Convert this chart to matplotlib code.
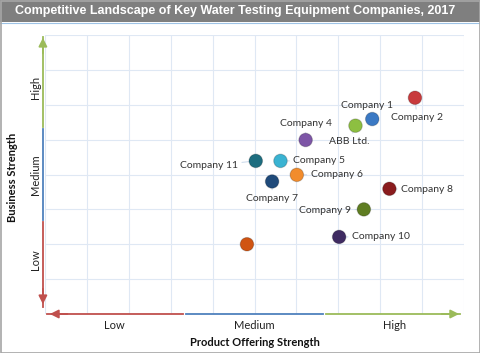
import matplotlib.pyplot as plt
from matplotlib.patches import Rectangle

# chart data
companies = ['Company 2', 'Company 1', 'ABB Ltd.', 'Company 4', 'Company 11', 'Company 5',
             'Company 6', 'Company 7', 'Company 8', 'Company 9', 'Company 10', '']
product_strength = [8.83, 7.81, 7.41, 6.22, 5.03, 5.62, 6.01, 5.42, 8.22, 7.61, 7.02, 4.82]
business_strength = [6.2, 5.59, 5.40, 4.99, 4.39, 4.39, 3.99, 3.80, 3.59, 3.00, 2.21, 2.0]
levels = ['Low', 'Medium', 'High']

colors = ['#c83a3c', '#3b79c4', '#8dbf41', '#7d55a6', '#1d6d7f', '#3ab3d2',
          '#f28c2c', '#1f4a7a', '#8a1c1e', '#5f7d22', '#3f2b62', '#d05412']
# label offsets in pixels (dx, dy) and alignment
offsets = [(2, -20, 'center'), (-5, 14, 'center'), (-6, -16, 'center'), (0, 16, 'center'),
           (-18, -5, 'right'), (13, 0, 'left'), (14, 0, 'left'), (0, -17, 'center'),
           (12, -1, 'left'), (-13, -1, 'right'), (13, 0, 'left'), (0, 0, 'center')]

plt.rcParams['font.family'] = ['Lato', 'DejaVu Sans']

fig = plt.figure(figsize=(4.8, 3.53), dpi=100)
ax = fig.add_axes([45 / 480, 1 - 314 / 353, 419 / 480, 279 / 353])

# title bar and border
fig.patches.append(Rectangle((0, 1 - 22 / 353), 1, 22 / 353, transform=fig.transFigure,
                             facecolor='#7f7f7f', edgecolor='none', zorder=0))
fig.patches.append(Rectangle((0.5 / 480, 0.5 / 353), 479 / 480, 352 / 353, transform=fig.transFigure,
                             facecolor='none', edgecolor='#a6a6a6', lw=1.2, zorder=5))
fig.lines.append(plt.Line2D([0, 1], [1 - 22.5 / 353] * 2, transform=fig.transFigure,
                            color='#9dc3e6', lw=0.8))
fig.text(0.49, 1 - 11 / 353, 'Competitive Landscape of Key Water Testing Equipment Companies, 2017',
         ha='center', va='center', color='white', fontsize=9.0, fontweight='bold',
         family='Liberation Sans')

ax.set_xlim(0, 10)
ax.set_ylim(0, 8)
ax.set_xticks(range(11))
ax.set_yticks(range(9))
ax.grid(True, color='#dfe8f4', lw=0.8)
ax.tick_params(length=0, labelbottom=False, labelleft=False)
for s in ax.spines.values():
    s.set_visible(False)
ax.set_axisbelow(True)

# colored axis arrows
seg_colors = ['#c0504d', '#4f81bd', '#9bbb59']
head = '-|>,head_length=0.5,head_width=0.25'
ax.plot([0.05, 3.3], [0, 0], color=seg_colors[0], lw=1.3, clip_on=False)
ax.plot([3.37, 6.63], [0, 0], color=seg_colors[1], lw=1.3, clip_on=False)
ax.plot([6.7, 9.9], [0, 0], color=seg_colors[2], lw=1.3, clip_on=False)
ax.annotate('', xy=(0.05, 0), xytext=(0.6, 0),
            arrowprops=dict(arrowstyle=head, color=seg_colors[0], lw=1.3), annotation_clip=False)
ax.annotate('', xy=(9.95, 0), xytext=(9.4, 0),
            arrowprops=dict(arrowstyle=head, color=seg_colors[2], lw=1.3), annotation_clip=False)

ax.plot([-0.05, -0.05], [0.2, 2.65], color=seg_colors[0], lw=1.3, clip_on=False)
ax.plot([-0.05, -0.05], [2.7, 5.3], color=seg_colors[1], lw=1.3, clip_on=False)
ax.plot([-0.05, -0.05], [5.37, 7.95], color=seg_colors[2], lw=1.3, clip_on=False)
ax.annotate('', xy=(-0.05, 0.2), xytext=(-0.05, 0.8),
            arrowprops=dict(arrowstyle=head, color=seg_colors[0], lw=1.3), annotation_clip=False)
ax.annotate('', xy=(-0.05, 8.0), xytext=(-0.05, 7.4),
            arrowprops=dict(arrowstyle=head, color=seg_colors[2], lw=1.3), annotation_clip=False)

# level labels
ylev_pos = [1.55, 4.0, 6.5]
for i, lev in enumerate(levels):
    ax.text((i + 0.5) * 10 / 3, -0.32, lev, ha='center', va='center', fontsize=8, color='#222222')
    ax.text(-0.22, ylev_pos[i], lev, ha='center', va='center', rotation=90, fontsize=8,
            color='#222222')

ax.text(5, -0.82, 'Product Offering Strength', ha='center', va='center', fontsize=8,
        fontweight='bold', color='#111111')
fig.text(13 / 480, 1 - 177 / 353, 'Business Strength', rotation=90, ha='center', va='center',
         fontsize=8, fontweight='bold', color='#111111')

# points
ax.scatter(product_strength, business_strength, s=95, c=colors, edgecolors='none', zorder=3)
ax.scatter(product_strength, business_strength, s=95, facecolors='none',
           edgecolors='#00000030', linewidths=0.8, zorder=4)

for name, xv, yv, (dx, dy, ha) in zip(companies, product_strength, business_strength, offsets):
    if not name:
        continue
    ax.annotate(name, xy=(xv, yv), xytext=(dx * 0.72, dy * 0.72), textcoords='offset points',
                ha=ha, va='center', fontsize=7.5, color='#333333', zorder=2,
                arrowprops=dict(arrowstyle='-', color='#c8d7ea', lw=0.7, shrinkA=1, shrinkB=2))

fig.savefig('out.png', dpi=100)
